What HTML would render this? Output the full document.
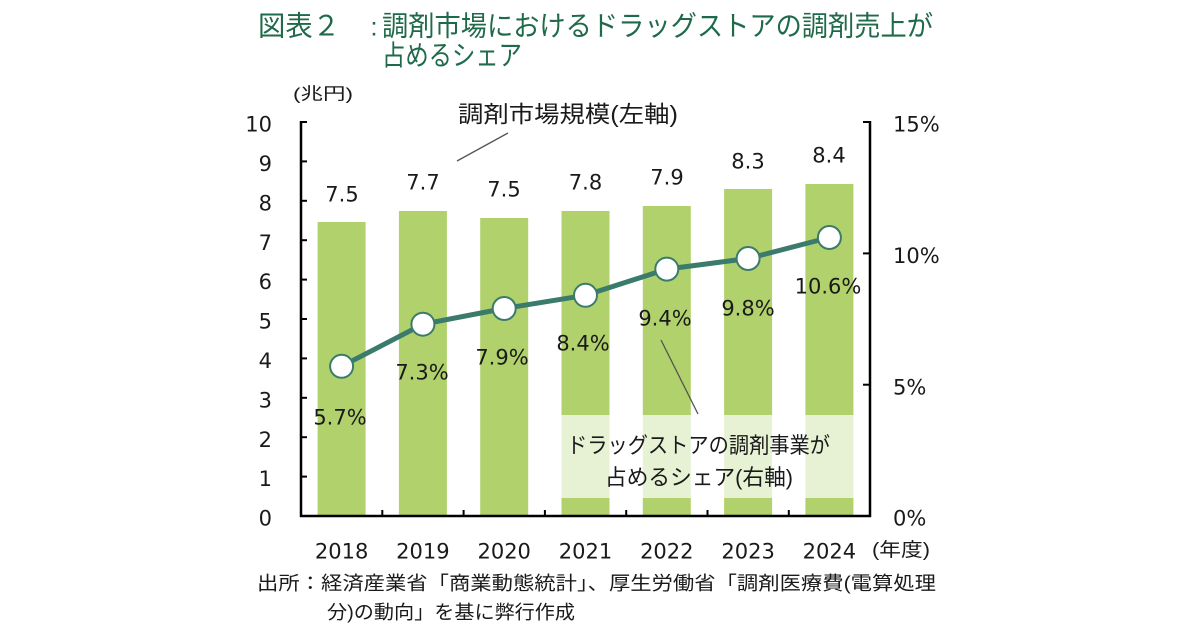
<!DOCTYPE html>
<html>
<head>
<meta charset="utf-8">
<style>
html,body{margin:0;padding:0;background:#fff;}
svg{display:block;}
.jp{font-family:"Liberation Sans","Noto Sans CJK JP",sans-serif;}
.num{font-family:"DejaVu Sans","Liberation Sans",sans-serif;font-size:21px;fill:#1a1a1a;}
</style>
</head>
<body>
<svg width="1200" height="630" viewBox="0 0 1200 630" xmlns="http://www.w3.org/2000/svg">
<rect width="1200" height="630" fill="#fff"/>

<!-- Title -->
<g class="jp" fill="#1f6a4a" font-size="28">
  <text x="258" y="35.5" textLength="82" lengthAdjust="spacingAndGlyphs">図表２</text>
  <text x="374" y="35.5" text-anchor="middle" font-family="Liberation Sans, sans-serif" font-size="26">:</text>
  <text x="382" y="35.5" textLength="551" lengthAdjust="spacingAndGlyphs">調剤市場におけるドラッグストアの調剤売上が</text>
  <text x="382" y="65" textLength="140" lengthAdjust="spacingAndGlyphs">占めるシェア</text>
</g>

<!-- unit -->
<text class="jp" x="293" y="99.5" font-size="17" fill="#1a1a1a" textLength="60" lengthAdjust="spacingAndGlyphs">(兆円)</text>

<!-- Bars -->
<g fill="#b0d16b">
  <rect x="317.6" y="222" width="48" height="294"/>
  <rect x="398.9" y="211" width="48" height="305"/>
  <rect x="480.2" y="218" width="48" height="298"/>
  <rect x="561.5" y="211" width="48" height="305"/>
  <rect x="642.8" y="206" width="48" height="310"/>
  <rect x="724.1" y="189" width="48" height="327"/>
  <rect x="805.4" y="184" width="48" height="332"/>
</g>

<!-- annotation box overlay -->
<rect x="556" y="415" width="302" height="83" fill="#fff" fill-opacity="0.7"/>

<!-- Axes -->
<g stroke="#000" stroke-width="2.5" fill="none">
  <line x1="301" y1="121" x2="301" y2="517"/>
  <line x1="300" y1="516" x2="871" y2="516"/>
  <line x1="870" y1="121" x2="870" y2="517"/>
</g>
<g stroke="#000" stroke-width="2">
  <line x1="301" y1="122" x2="307" y2="122"/>
  <line x1="301" y1="161.4" x2="307" y2="161.4"/>
  <line x1="301" y1="200.8" x2="307" y2="200.8"/>
  <line x1="301" y1="240.2" x2="307" y2="240.2"/>
  <line x1="301" y1="279.6" x2="307" y2="279.6"/>
  <line x1="301" y1="319" x2="307" y2="319"/>
  <line x1="301" y1="358.4" x2="307" y2="358.4"/>
  <line x1="301" y1="397.8" x2="307" y2="397.8"/>
  <line x1="301" y1="437.2" x2="307" y2="437.2"/>
  <line x1="301" y1="476.6" x2="307" y2="476.6"/>
  <line x1="863" y1="122" x2="870" y2="122"/>
  <line x1="863" y1="253.4" x2="870" y2="253.4"/>
  <line x1="863" y1="384.7" x2="870" y2="384.7"/>
  <line x1="382.3" y1="510" x2="382.3" y2="516"/>
  <line x1="463.6" y1="510" x2="463.6" y2="516"/>
  <line x1="544.9" y1="510" x2="544.9" y2="516"/>
  <line x1="626.2" y1="510" x2="626.2" y2="516"/>
  <line x1="707.5" y1="510" x2="707.5" y2="516"/>
  <line x1="788.8" y1="510" x2="788.8" y2="516"/>
</g>

<!-- Left axis labels -->
<g class="num" text-anchor="end">
  <text x="272" y="131.6">10</text>
  <text x="272" y="171">9</text>
  <text x="272" y="210.4">8</text>
  <text x="272" y="249.8">7</text>
  <text x="272" y="289.2">6</text>
  <text x="272" y="328.6">5</text>
  <text x="272" y="368">4</text>
  <text x="272" y="407.4">3</text>
  <text x="272" y="446.8">2</text>
  <text x="272" y="486.2">1</text>
  <text x="272" y="525.6">0</text>
</g>

<!-- Right axis labels -->
<g class="num">
  <text x="893" y="131.6">15%</text>
  <text x="893" y="263">10%</text>
  <text x="893" y="394.3">5%</text>
  <text x="893" y="525.6">0%</text>
</g>

<!-- X labels -->
<g class="num" text-anchor="middle">
  <text x="341.6" y="558.5">2018</text>
  <text x="422.9" y="558.5">2019</text>
  <text x="504.2" y="558.5">2020</text>
  <text x="585.5" y="558.5">2021</text>
  <text x="666.8" y="558.5">2022</text>
  <text x="748.1" y="558.5">2023</text>
  <text x="829.4" y="558.5">2024</text>
</g>
<text class="jp" x="872" y="556" font-size="19" fill="#1a1a1a" textLength="58" lengthAdjust="spacingAndGlyphs">(年度)</text>

<!-- Bar value labels -->
<g class="num" text-anchor="middle">
  <text x="342" y="201.6">7.5</text>
  <text x="423" y="189.6">7.7</text>
  <text x="504" y="196.6">7.5</text>
  <text x="585.5" y="189.6">7.8</text>
  <text x="667" y="184.6">7.9</text>
  <text x="748" y="168.6">8.3</text>
  <text x="829" y="162.6">8.4</text>
</g>

<!-- Leader lines -->
<g stroke="#555" stroke-width="1.3">
  <line x1="457" y1="161" x2="508" y2="133"/>
  <line x1="661" y1="340" x2="698" y2="414"/>
</g>

<!-- Share line -->
<polyline points="341.6,366.3 422.9,324.2 504.2,308.5 585.5,295.3 666.8,269.1 748.1,258.5 829.4,237.5"
  fill="none" stroke="#3b7b6b" stroke-width="5" stroke-linejoin="round"/>
<g fill="#fff" stroke="#3b7b6b" stroke-width="2">
  <circle cx="341.6" cy="366.3" r="11.5"/>
  <circle cx="422.9" cy="324.2" r="11.5"/>
  <circle cx="504.2" cy="308.5" r="11.5"/>
  <circle cx="585.5" cy="295.3" r="11.5"/>
  <circle cx="666.8" cy="269.1" r="11.5"/>
  <circle cx="748.1" cy="258.5" r="11.5"/>
  <circle cx="829.4" cy="237.5" r="11.5"/>
</g>

<!-- Share labels -->
<g class="num" text-anchor="middle">
  <text x="340" y="424.6">5.7%</text>
  <text x="422" y="379.6">7.3%</text>
  <text x="502" y="364.6">7.9%</text>
  <text x="583" y="350.6">8.4%</text>
  <text x="665" y="325.6">9.4%</text>
  <text x="748" y="315.6">9.8%</text>
  <text x="828" y="293.6">10.6%</text>
</g>

<!-- Annotations -->
<g class="jp" fill="#1a1a1a">
  <text x="458" y="122" font-size="23" textLength="220" lengthAdjust="spacingAndGlyphs">調剤市場規模(左軸)</text>
  <text x="567" y="453" font-size="22" textLength="263" lengthAdjust="spacingAndGlyphs">ドラッグストアの調剤事業が</text>
  <text x="605" y="485" font-size="22" textLength="188" lengthAdjust="spacingAndGlyphs">占めるシェア(右軸)</text>
</g>

<!-- Footnote -->
<g class="jp" fill="#1a1a1a" font-size="19">
  <text x="257" y="589.5" textLength="679" lengthAdjust="spacingAndGlyphs">出所：経済産業省「商業動態統計」、厚生労働省「調剤医療費(電算処理</text>
  <text x="327" y="618.5" textLength="248" lengthAdjust="spacingAndGlyphs">分)の動向」を基に弊行作成</text>
</g>
</svg>
</body>
</html>
